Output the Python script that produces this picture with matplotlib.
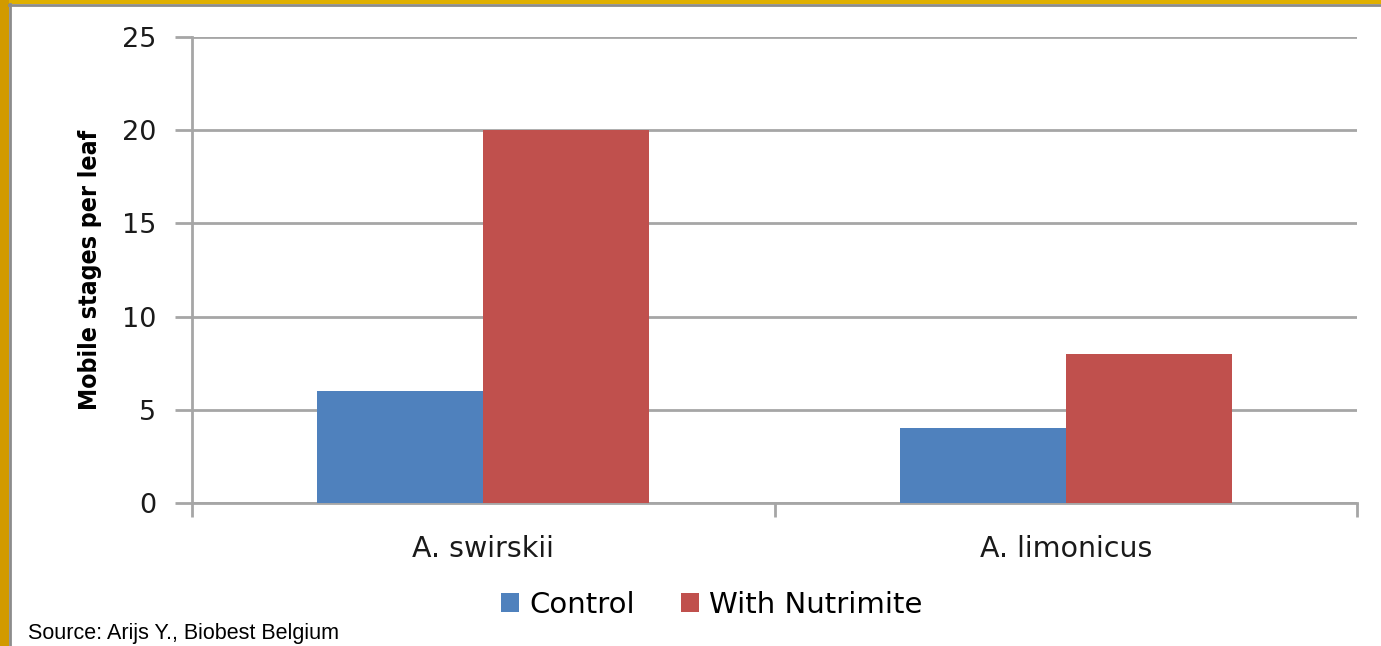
import matplotlib.pyplot as plt
import matplotlib.patches as mpatches
import numpy as np

categories = ["A. swirskii", "A. limonicus"]
control = [6, 4]
nutrimite = [20, 8]
series_names = ["Control", "With Nutrimite"]
colors = ["#4F81BD", "#C0504D"]

fig = plt.figure(figsize=(13.81, 6.46), dpi=100)
fig.patch.set_facecolor("white")

# gold frame on top and left
fig.patches.append(mpatches.Rectangle((0, 1 - 4 / 646), 1, 4 / 646, transform=fig.transFigure,
                                      facecolor="#E0B000", edgecolor="none", zorder=0))
fig.patches.append(mpatches.Rectangle((0, 0), 9 / 1381, 1, transform=fig.transFigure,
                                      facecolor="#D29A00", edgecolor="none", zorder=0))
fig.add_artist(plt.Line2D([9.5 / 1381, 9.5 / 1381], [0, 1 - 4 / 646], transform=fig.transFigure,
                          color="#8C8C8C", lw=2))
fig.add_artist(plt.Line2D([9 / 1381, 1], [1 - 5 / 646, 1 - 5 / 646], transform=fig.transFigure,
                          color="#8C8C8C", lw=2))

ax = fig.add_axes([192 / 1381, 1 - 503 / 646, 1165 / 1381, 466 / 646])
x = np.arange(len(categories))
w = 0.285
ax.bar(x - w / 2, control, w, color=colors[0], label=series_names[0], zorder=3)
ax.bar(x + w / 2, nutrimite, w, color=colors[1], label=series_names[1], zorder=3)

ax.set_xlim(-0.5, 1.5)
ax.set_ylim(0, 25)
ax.set_yticks([0, 5, 10, 15, 20, 25])
ax.yaxis.grid(True, color="#A6A6A6", lw=2, zorder=0)
for s in ["top", "right"]:
    ax.spines[s].set_visible(False)
ax.spines["left"].set_color("#A6A6A6")
ax.spines["left"].set_linewidth(2)
ax.spines["bottom"].set_color("#A6A6A6")
ax.spines["bottom"].set_linewidth(2)

ax.set_xticks(x)
ax.set_xticklabels(categories, fontsize=20.5, fontfamily="DejaVu Sans", color="#1a1a1a")
ax.tick_params(axis="x", length=0, pad=23)
ax.set_xticks([-0.5, 0.5, 1.5], minor=True)
ax.tick_params(axis="x", which="minor", length=10, width=2, color="#A6A6A6")
ax.tick_params(axis="y", length=12, width=2, color="#A6A6A6", pad=14)
for t in ax.get_yticklabels():
    t.set_fontsize(19.5)
    t.set_fontfamily("DejaVu Sans")
    t.set_color("#1a1a1a")

ax.set_ylabel("Mobile stages per leaf", fontsize=17.8, fontweight="bold",
              fontfamily="DejaVu Sans", fontstretch="condensed", labelpad=14)

fig.legend(loc="center", bbox_to_anchor=(712 / 1381, 1 - 605 / 646), ncol=2, frameon=False,
           prop={"family": "DejaVu Sans", "size": 21}, handlelength=0.6, handleheight=0.6,
           handletextpad=0.35, columnspacing=1.6)

fig.text(28 / 1381, 1 - 633 / 646, "Source: Arijs Y., Biobest Belgium", fontsize=15.5,
         fontfamily="Liberation Sans", va="center", ha="left")

fig.savefig("out.png", dpi=100)
